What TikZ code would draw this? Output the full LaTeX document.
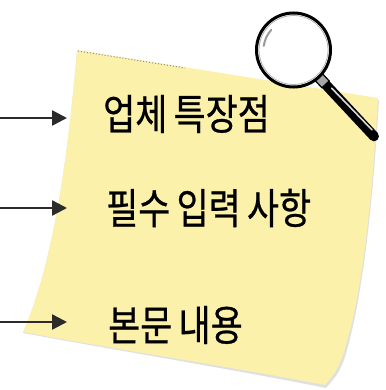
\documentclass[tikz,border=0pt]{standalone}
\usepackage{fontspec}
\usepackage{tikz}
\usetikzlibrary{arrows.meta}
\newfontfamily\kr[FakeStretch=0.83,FakeBold=0.6,WordSpace=0.8]{Noto Sans CJK KR}
\definecolor{note}{HTML}{FCF1AA}
\definecolor{ink}{HTML}{2B2B2B}
\tikzset{
	item/.style={anchor=west, inner sep=0pt, font=\kr\fontsize{42}{42}\selectfont},
	pointer/.style={draw=ink, line width=2.6pt, -{Triangle[length=15pt,width=15pt]}},
}

\begin{document}
\begin{tikzpicture}[x=1pt,y=-1pt]
	\useasboundingbox (0,0) rectangle (385,390);
	% sticky note with a soft shadow
	\fill[black!12] (77,51) -- (379,100) .. controls (373,200) and (363,300) .. (344,360) .. controls (338,374) .. (326,388) .. controls (220,367) and (120,351) .. (23,333) .. controls (50,270) and (66,180) .. (77,51) -- cycle;
	\fill[note] (77,50) -- (378,98) .. controls (372,200) and (362,300) .. (342,358) .. controls (336,372) .. (325,385) .. controls (220,365) and (120,350) .. (23,332) .. controls (50,270) and (66,180) .. (77,50) -- cycle;
	\draw[black!45, line width=1pt, dotted] (78,51) -- (185,68);
	% labels
	\node[item] (feat) at (103,114) {업체 특장점};
	\node[item] (req) at (106,208) {필수 입력 사항};
	\node[item] (body) at (108,325) {본문 내용};
	\coordinate (in1) at (0,118);
	\coordinate (in2) at (0,208);
	\coordinate (in3) at (0,322);
	\coordinate (to1) at (67,118);
	\coordinate (to2) at (67,208);
	\coordinate (to3) at (67,322);
	\foreach \i in {1,2,3}
	\draw[pointer] (in\i) -- (to\i);
	% magnifier
	\coordinate (lens) at (293.5,50);
	\draw[black, line width=10pt, line cap=round] ([shift={(47:46)}]lens) -- ([shift={(47:118)}]lens);
	\draw[white!85!black, line width=1.6pt, line cap=round] ([shift={(45:54)}]lens) -- ([shift={(45.5:112)}]lens);
	\draw[black, line width=1.2pt, fill=black!35] ([shift={(47:36)}]lens) ++(137:5) -- ++(47:11) -- ++(-43:10) -- ++(227:11) -- cycle;
	\draw[line width=3pt, fill=white] (lens) circle (37);
	\draw[black!30, line width=0.8pt] (lens) circle (34.5);
	\draw[black!40, line width=2pt, line cap=round] ([shift={(188:30)}]lens) arc (188:222:30);
\end{tikzpicture}
\end{document}
